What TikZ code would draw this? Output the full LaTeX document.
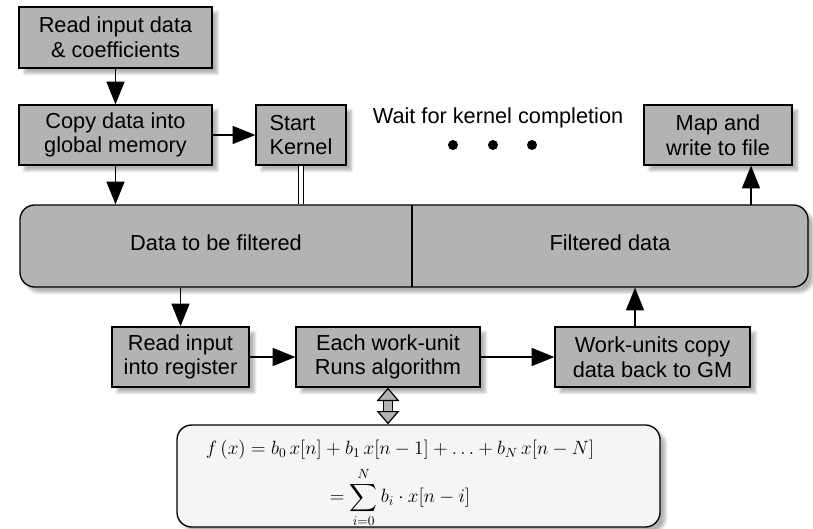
\documentclass[tikz,border=0pt]{standalone}
\usepackage{amsmath,amssymb}
\usepackage{fontspec}
\setmainfont{Liberation Sans}
\usepackage{xcolor}
\usepackage{tikz}
\usetikzlibrary{arrows.meta, positioning, shadows.blur}

\definecolor{boxgray}{RGB}{179,179,179}
\definecolor{formfill}{RGB}{245,245,245}

\begin{document}
\begin{tikzpicture}[
    x=0.75pt, y=-0.75pt,
    font=\fontsize{16.3}{18.5}\selectfont,
    shade/.style={blur shadow={shadow blur steps=6, shadow xshift=4pt, shadow yshift=-4pt, shadow opacity=30}},
    block/.style={rectangle, draw, fill=boxgray, align=center, inner sep=0pt, line width=1pt, minimum height=45pt, shade},
    arrow/.style={-{Triangle[length=17pt,width=13.5pt]}, line width=1pt},
    bus/.style={double, double distance=3.5pt, line width=0.7pt},
    swap/.style={{Triangle[open,fill=boxgray,length=10pt,width=17pt]}-{Triangle[open,fill=boxgray,length=10pt,width=17pt]}, double=boxgray, double distance=6pt, line width=0.9pt},
    caption/.style={inner sep=0pt}
]
    \useasboundingbox (0,0) rectangle (813,528);

    % Host side
    \node[block, minimum width=144.75pt, minimum height=45.75pt] (read) at (115.5,37.5) {Read input data\\\& coefficients};
    \node[block, minimum width=144.75pt] (copy) at (115.5,135) {Copy data into\\global memory};
    \node[block, minimum width=67.5pt, align=left] (start) at (301,135) {Start\\Kernel};
    \node[caption] (wait) at (498,118) {Wait for kernel completion};
    \foreach \i/\x in {1/453, 2/493, 3/532}
        \fill (\x,145) circle (5);
    \node[block, minimum width=111pt] (map) at (718,135) {Map and\\write to file};

    % Global memory
    \node[rectangle, draw, fill=boxgray, rounded corners=11pt, line width=1pt,
          minimum width=591pt, minimum height=61.5pt, shade] (buffer) at (414,246) {};
    \draw[line width=1pt] (412,205) -- (412,287);
    \node[caption] (infield) at (216,243) {Data to be filtered};
    \node[caption] (outfield) at (610,243) {Filtered data};

    % Device side
    \node[block, minimum width=102.75pt] (reg) at (180.5,357) {Read input\\into register};
    \node[block, minimum width=138pt] (work) at (388,357) {Each work-unit\\Runs algorithm};
    \node[block, minimum width=146.25pt] (back) at (652.5,357) {Work-units copy\\data back to GM};

    % Formula
    \node[rectangle, draw, fill=formfill, rounded corners=11pt, line width=1pt,
          minimum width=362.25pt, minimum height=76.5pt, shade] (formula) at (418.5,476) {};
    \node[caption, align=center, font=\fontsize{14.5}{17}\selectfont] (expr) at (400,484)
        {$f\,(x)=b_0\,x[n]+b_1\,x[n-1]+\ldots+b_N\,x[n-N]$\\[5pt]
         $\displaystyle =\sum_{i=0}^{N} b_i\cdot x[n-i]$};

    % Arrows
    \coordinate (mapin) at (751,205);
    \coordinate (backout) at (635,327);
    \draw[arrow] (read) -- (copy);
    \draw[arrow] (copy) -- (start);
    \draw[arrow] (copy.south) -- (copy.south |- buffer.north);
    \draw[bus] (start.south) -- (start.south |- buffer.north);
    \draw[arrow] (mapin) -- (mapin |- map.south);
    \draw[arrow] (reg.north |- buffer.south) -- (reg.north);
    \draw[arrow] (backout) -- (backout |- buffer.south);
    \draw[arrow] (reg) -- (work);
    \draw[arrow] (work) -- (back);
    \draw[swap] (work.south) -- (work.south |- formula.north);
\end{tikzpicture}
\end{document}
